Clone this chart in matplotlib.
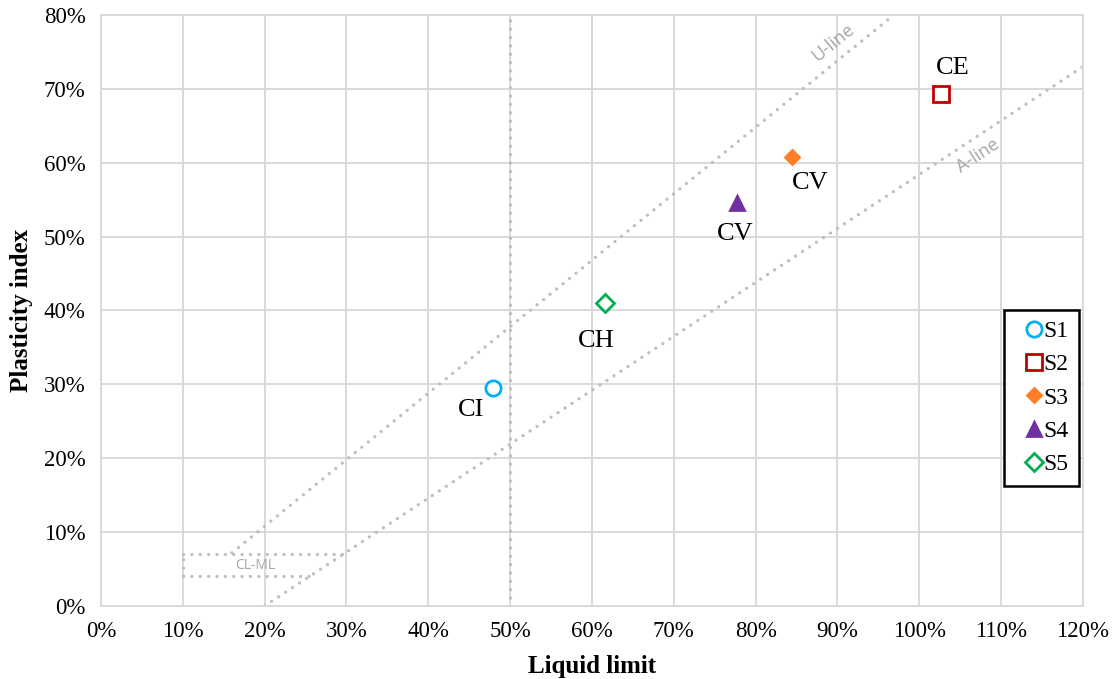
import numpy as np
import matplotlib
matplotlib.use("Agg")
import matplotlib.pyplot as plt
from matplotlib.ticker import PercentFormatter

# sample data: liquid limit (%) and plasticity index (%)
samples = ["S1", "S2", "S3", "S4", "S5"]
liquid_limit = [47.9, 102.6, 84.5, 77.7, 61.6]
plasticity = [29.5, 69.3, 60.8, 54.5, 41.0]
classes = ["CI", "CE", "CV", "CV", "CH"]

# reference lines of the plasticity chart
u_line_ll = [16, 96.9]
a_line_ll = [20, 120]
clml_pi = [4, 7]

# styles
markers = ["o", "s", "D", "^", "D"]
colors = ["#00B0F0", "#C00000", "#FF7F27", "#7030A0", "#00B050"]
filled = [False, False, True, True, False]
msizes = [11, 11, 7.5, 10, 9]
lbl_off = [(-16, -16), (9, 19), (13, -19), (-1, -22), (-6, -27)]

serif = "Liberation Serif"
grey = "#BFBFBF"
dots = dict(color=grey, lw=2.4, linestyle=(0, (0.01, 2.5)),
            dash_capstyle="round", zorder=2)

fig = plt.figure(figsize=(11.13, 6.79), dpi=100)
ax = fig.add_axes([0.0907, 0.1075, 0.8823, 0.8705])

ax.set_xlim(0, 120)
ax.set_ylim(0, 80)
ax.set_xticks(np.arange(0, 121, 10))
ax.set_yticks(np.arange(0, 81, 10))
ax.xaxis.set_major_formatter(PercentFormatter(decimals=0))
ax.yaxis.set_major_formatter(PercentFormatter(decimals=0))
ax.grid(True, color="#D9D9D9", lw=1.4, zorder=0)
ax.set_axisbelow(True)
for s in ax.spines.values():
    s.set_color("#D9D9D9")
    s.set_linewidth(1.4)
ax.tick_params(length=0, labelsize=16.5, labelfontfamily=serif)
ax.tick_params(axis="x", pad=11)
ax.tick_params(axis="y", pad=11)

# U-line, A-line
ul = np.array(u_line_ll)
ax.plot(ul, 0.9 * (ul - 8), **dots)
al = np.array(a_line_ll)
ax.plot(al, 0.73 * (al - 20), **dots)
# LL = 50 divider
ax.plot([50, 50], [0, 80], **dots)
# CL-ML zone
for p in clml_pi:
    ax.plot([10, p / 0.73 + 20], [p, p], **dots)
ax.plot([10, 10], clml_pi, **dots)

ax.text(89.5, 76.3, "U-line", color="#A6A6A6", fontsize=13, family="Open Sans",
        rotation=np.degrees(np.arctan(0.9)), transform_rotates_text=True,
        rotation_mode="anchor", ha="center", va="center")
ax.text(107.2, 61.0, "A-line", color="#A6A6A6", fontsize=13, family="Open Sans",
        rotation=np.degrees(np.arctan(0.73)), transform_rotates_text=True,
        rotation_mode="anchor", ha="center", va="center")
ax.text(18.8, 5.5, "CL-ML", color="#A6A6A6", fontsize=10, family="Open Sans",
        ha="center", va="center")

for i, name in enumerate(samples):
    ax.plot(liquid_limit[i], plasticity[i], marker=markers[i], linestyle="none",
            markersize=msizes[i], color=colors[i], markeredgewidth=2,
            markerfacecolor=colors[i] if filled[i] else "white",
            label=name, zorder=4)
    ax.annotate(classes[i], (liquid_limit[i], plasticity[i]),
                xytext=lbl_off[i], textcoords="offset points",
                ha="center", va="center", fontsize=19, family=serif, zorder=5)

leg = ax.legend(loc="upper right", bbox_to_anchor=(0.996, 0.501),
                prop={"family": serif, "size": 17}, fancybox=False,
                framealpha=1, edgecolor="black", handlelength=1.6,
                handletextpad=-0.4, labelspacing=0.5, borderpad=0.45,
                borderaxespad=0)
leg.get_frame().set_linewidth(1.8)

ax.set_xlabel("Liquid limit", fontsize=18, fontweight="bold", family=serif,
              labelpad=9)
ax.set_ylabel("Plasticity index", fontsize=18, fontweight="bold", family=serif,
              labelpad=8)

fig.savefig("out.png", dpi=100)
